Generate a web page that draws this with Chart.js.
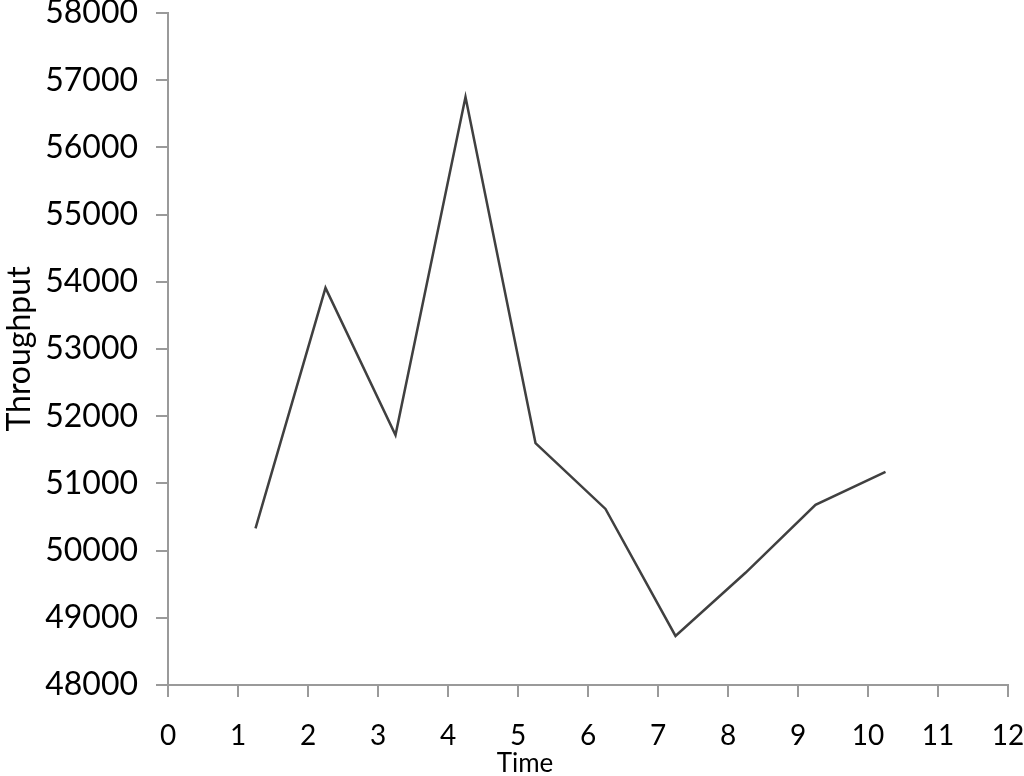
<!DOCTYPE html>
<html>
<head>
<meta charset="utf-8">
<script src="https://cdn.jsdelivr.net/npm/chart.js@4/dist/chart.umd.min.js"></script>
<style>
  html, body { margin: 0; padding: 0; background: #fff; }
  #wrap { width: 1024px; height: 776px; position: relative; }
</style>
</head>
<body>
<div id="wrap"><canvas id="c" width="1024" height="776"></canvas></div>
<script>
const times = [1.25, 2.25, 3.25, 4.25, 5.25, 6.25, 7.25, 8.25, 9.25, 10.25];
const throughput = [50330, 53910, 51720, 56750, 51600, 50620, 48730, 49670, 50680, 51170];
const xTitle = 'Time';
const yTitle = 'Throughput';

const axisColor = '#9a9a9a';
const fontFamily = 'Lato, "DejaVu Sans", sans-serif';

const xTitlePlugin = {
  id: 'xTitlePlugin',
  afterDraw(chart) {
    const ctx = chart.ctx;
    ctx.save();
    ctx.fillStyle = '#000';
    ctx.font = '26px ' + fontFamily;
    ctx.textAlign = 'center';
    ctx.textBaseline = 'middle';
    ctx.fillText(xTitle, 525, 764);
    ctx.restore();
  }
};

new Chart(document.getElementById('c'), {
  type: 'line',
  data: {
    datasets: [{
      data: times.map((t, i) => ({ x: t, y: throughput[i] })),
      borderColor: '#404040',
      borderWidth: 2.5,
      pointRadius: 0,
      tension: 0,
      fill: false
    }]
  },
  options: {
    responsive: false,
    animation: false,
    devicePixelRatio: 1,
    layout: { padding: { top: 13, right: 16, left: 0, bottom: 0 } },
    plugins: { legend: { display: false }, tooltip: { enabled: false } },
    scales: {
      x: {
        type: 'linear',
        min: 0, max: 12,
        ticks: { stepSize: 1, color: '#000', padding: 22, font: { family: fontFamily, size: 28 }, maxRotation: 0,
                 callback: v => String(v) },
        grid: { display: true, drawOnChartArea: false, drawTicks: true, tickLength: 12, color: axisColor, lineWidth: 2 },
        border: { display: true, color: axisColor, width: 2 },
        afterFit(scale) { scale.height = 91; scale.paddingLeft = 0; scale.paddingRight = 0; }
      },
      y: {
        min: 48000, max: 58000,
        ticks: { stepSize: 1000, color: '#000', padding: 18, font: { family: fontFamily, size: 32 },
                 callback: v => String(v) },
        grid: { display: true, drawOnChartArea: false, drawTicks: true, tickLength: 12, color: axisColor, lineWidth: 2 },
        border: { display: true, color: axisColor, width: 2 },
        title: { display: true, text: yTitle, color: '#000', font: { family: fontFamily, size: 32 }, padding: { top: 0, bottom: 0 } },
        afterFit(scale) { scale.width = 168; scale.paddingTop = 0; scale.paddingBottom = 0; }
      }
    }
  },
  plugins: [xTitlePlugin]
});
</script>
</body>
</html>
